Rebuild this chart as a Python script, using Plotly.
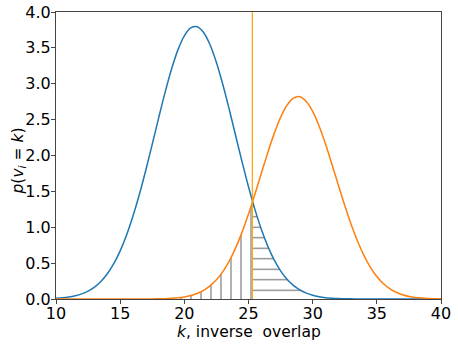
import plotly.graph_objects as go

# values (half-unit steps of k)
k = [10 + 0.5 * i for i in range(61)]
p_blue = [0.010, 0.016, 0.027, 0.045, 0.071, 0.110, 0.166, 0.245, 0.352, 0.492,
          0.671, 0.892, 1.156, 1.459, 1.798, 2.157, 2.525, 2.880, 3.203, 3.472,
          3.668, 3.779, 3.794, 3.714, 3.544, 3.296, 2.989, 2.641, 2.275, 1.911,
          1.565, 1.249, 0.972, 0.737, 0.545, 0.393, 0.276, 0.189, 0.126, 0.082,
          0.052, 0.032, 0.019, 0.011, 0.006, 0.004, 0.002, 0.001, 0.0, 0.0,
          0.0, 0.0, 0.0, 0.0, 0.0, 0.0, 0.0, 0.0, 0.0, 0.0, 0.0]
p_orange = [0.0, 0.0, 0.0, 0.0, 0.0, 0.0, 0.0, 0.0, 0.0, 0.0,
            0.0, 0.0, 0.0, 0.0, 0.0, 0.001, 0.003, 0.005, 0.010, 0.017,
            0.029, 0.048, 0.077, 0.120, 0.182, 0.267, 0.382, 0.529, 0.713, 0.932,
            1.184, 1.461, 1.752, 2.039, 2.305, 2.532, 2.700, 2.799, 2.820, 2.753,
            2.614, 2.411, 2.160, 1.879, 1.588, 1.303, 1.039, 0.805, 0.605, 0.442,
            0.314, 0.216, 0.145, 0.094, 0.059, 0.036, 0.022, 0.013, 0.007, 0.004, 0.002]
threshold = 25.3
p_cross = 1.36

x_ticks = [10, 15, 20, 25, 30, 35, 40]
y_ticks = [0.0, 0.5, 1.0, 1.5, 2.0, 2.5, 3.0, 3.5, 4.0]

BLUE = "#1f77b4"
ORANGE = "#ff7f0e"
FONT = "DejaVu Sans"

# hatched regions: orange left of threshold, blue right of threshold
left_x = [x for x in k if x < threshold] + [threshold]
left_y = [y for x, y in zip(k, p_orange) if x < threshold] + [p_cross]
right_x = [threshold] + [x for x in k if x > threshold]
right_y = [p_cross] + [y for x, y in zip(k, p_blue) if x > threshold]

fig = go.Figure()
fig.add_trace(go.Scatter(x=left_x, y=left_y, mode="lines", line=dict(width=0, shape="spline"),
                         fill="tozeroy", fillcolor="rgba(0,0,0,0)",
                         fillpattern=dict(shape="|", size=10, solidity=0.12, fgcolor="black",
                                          bgcolor="rgba(0,0,0,0)")))
fig.add_trace(go.Scatter(x=right_x, y=right_y, mode="lines", line=dict(width=0, shape="spline"),
                         fill="tozeroy", fillcolor="rgba(0,0,0,0)",
                         fillpattern=dict(shape="-", size=10.5, solidity=0.12, fgcolor="black",
                                          bgcolor="rgba(0,0,0,0)")))
fig.add_trace(go.Scatter(x=k, y=p_blue, mode="lines", line=dict(color=BLUE, width=1.5, shape="spline")))
fig.add_trace(go.Scatter(x=k, y=p_orange, mode="lines", line=dict(color=ORANGE, width=1.5, shape="spline")))
fig.add_trace(go.Scatter(x=[threshold, threshold], y=[0, 4], mode="lines",
                         line=dict(color="orange", width=1.2)))

axis = dict(showgrid=False, zeroline=False, showline=True, mirror=True, linecolor="#444",
            linewidth=1, ticks="outside", ticklen=4, tickcolor="#444", automargin=False,
            tickfont=dict(family=FONT, size=16, color="black"))
fig.update_xaxes(range=[10, 40], tickvals=x_ticks, ticklabelstandoff=-4, **axis)
fig.update_yaxes(range=[0, 4], tickvals=y_ticks, tickformat=".1f", ticklabelstandoff=-3, **axis)

# axis titles as annotations for exact placement
title_font = dict(family=FONT, size=15.5, color="black")
fig.add_annotation(text="<i>k</i>, inverse  overlap", xref="paper", yref="paper",
                   x=0.5, y=0, yanchor="top", yshift=-22, showarrow=False, font=title_font)
fig.add_annotation(text="<i>p</i>(<i>v<sub>i</sub></i> = <i>k</i>)", xref="paper", yref="paper",
                   x=0, y=0.5, xanchor="center", xshift=-38, yshift=-6, textangle=-90,
                   showarrow=False, font=title_font)

fig.update_layout(width=458, height=346, showlegend=False,
                  margin=dict(l=56, r=17, t=12, b=47),
                  plot_bgcolor="white", paper_bgcolor="white")
# drop the default page margin so the figure sits at the window's corner
fig.write_html("out.html", config={"displayModeBar": False},
               post_script="document.body.style.margin='0';")
